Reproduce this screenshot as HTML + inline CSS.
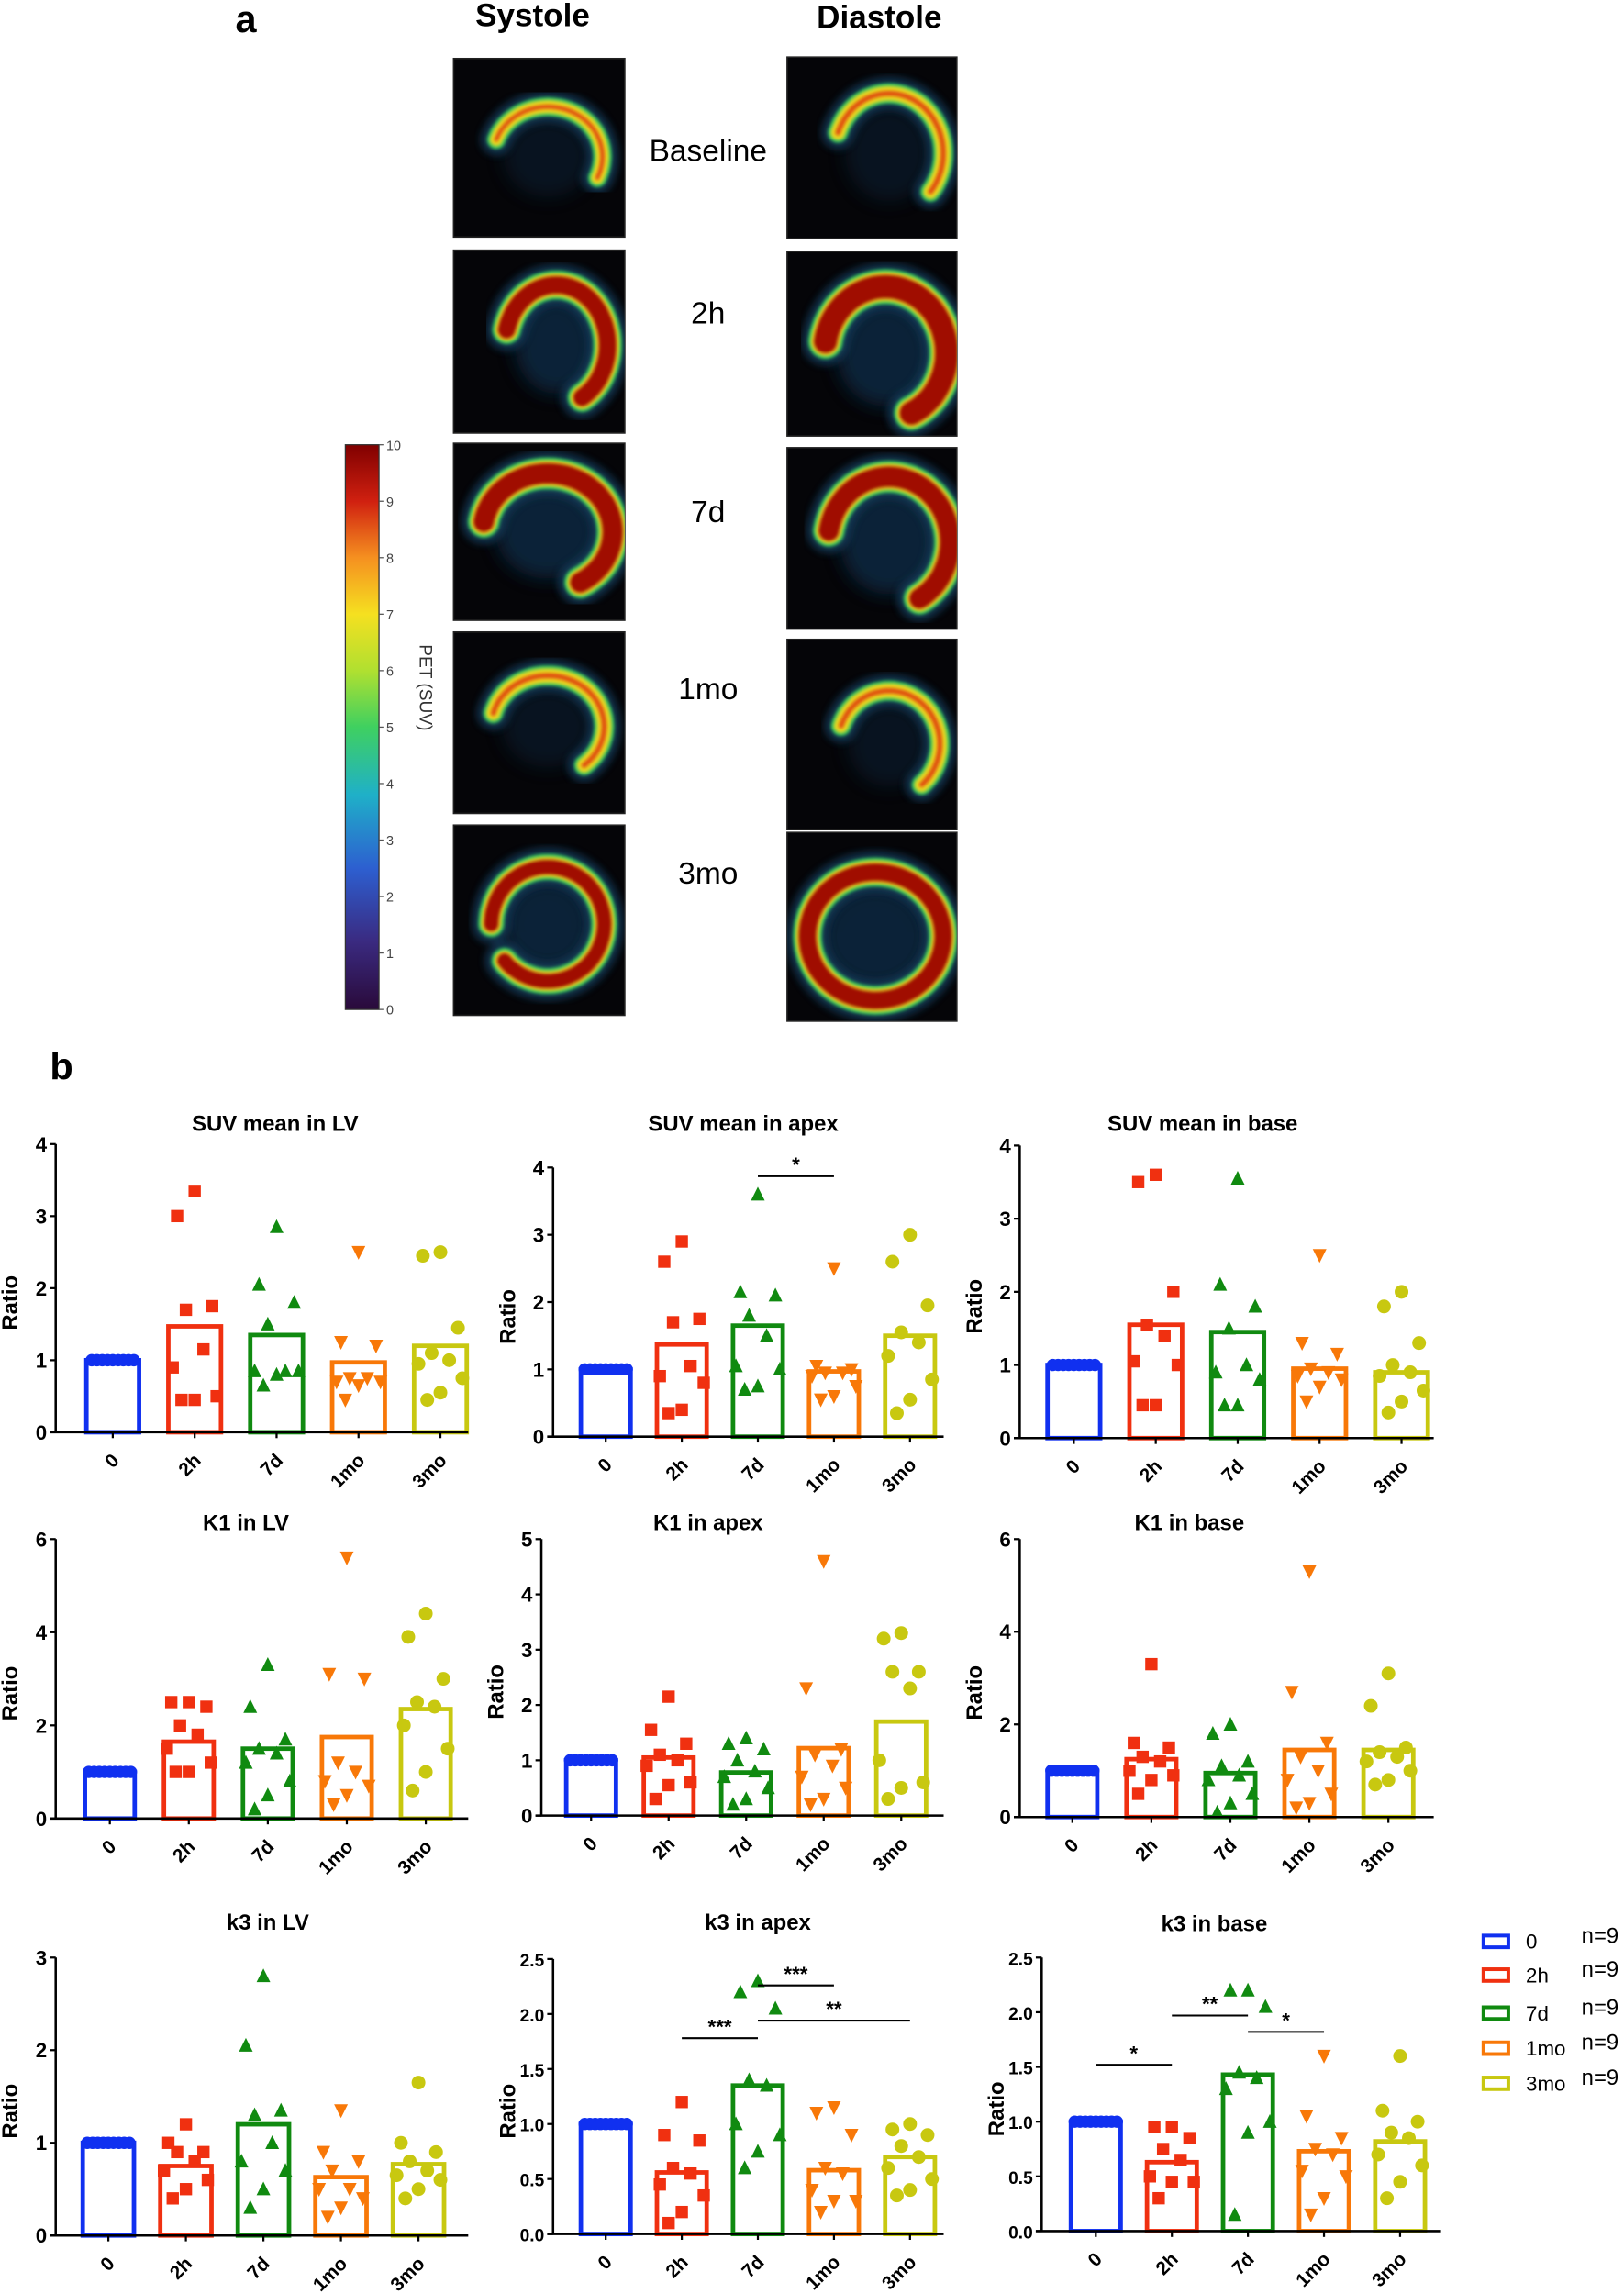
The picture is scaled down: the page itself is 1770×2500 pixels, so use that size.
<!DOCTYPE html>
<html><head><meta charset="utf-8"><style>
html,body{margin:0;padding:0;background:#fff}
svg{display:block}
text{font-family:"Liberation Sans",sans-serif}
</style></head><body>
<svg id="fig" width="1770" height="2500" viewBox="0 0 1110 1568" xmlns="http://www.w3.org/2000/svg">
<defs>
<filter id="blur2" x="-20%" y="-20%" width="140%" height="140%"><feGaussianBlur stdDeviation="2.5"/></filter>
<filter id="blur1" x="-20%" y="-20%" width="140%" height="140%"><feGaussianBlur stdDeviation="1.2"/></filter>
<filter id="blur6" x="-30%" y="-30%" width="160%" height="160%"><feGaussianBlur stdDeviation="6"/></filter>
<linearGradient id="cbar" x1="0" y1="1" x2="0" y2="0">
<stop offset="0" stop-color="#2a0a3a"/><stop offset="0.12" stop-color="#3a2a80"/><stop offset="0.25" stop-color="#2d5fd0"/><stop offset="0.38" stop-color="#1fb0c8"/><stop offset="0.5" stop-color="#3fd060"/><stop offset="0.6" stop-color="#b0e030"/><stop offset="0.7" stop-color="#f5e020"/><stop offset="0.8" stop-color="#f59020"/><stop offset="0.9" stop-color="#d02010"/><stop offset="1" stop-color="#800000"/>
</linearGradient>
</defs>
<g id="panelA"></g>
<g id="panelB"></g>
</svg>
<script>
// ---------- DATA ----------
const categories = ["0","2h","7d","1mo","3mo"];
const base0 = [1,1,1,1,1,1,1,1,1];

const suvLVPoints = [base0,[3.35,3.0,1.75,1.7,1.15,0.9,0.5,0.45,0.45],[2.85,2.05,1.8,1.5,0.85,0.85,0.85,0.8,0.65],[2.5,1.25,1.2,0.75,0.75,0.7,0.7,0.65,0.45],[2.5,2.45,1.45,1.1,1.0,0.95,0.75,0.55,0.45]];
const suvLVBars = [1.0,1.47,1.35,0.97,1.2];
const suvApexPoints = [base0,[2.9,2.6,1.75,1.7,1.05,0.9,0.8,0.4,0.35],[3.6,2.15,2.1,1.8,1.5,1.05,1.0,0.75,0.7],[2.5,1.05,1.0,0.95,0.95,0.9,0.75,0.6,0.55],[3.0,2.6,1.95,1.55,1.4,1.2,0.85,0.55,0.35]];
const suvApexBars = [1.0,1.37,1.65,0.97,1.5];
const suvBasePoints = [base0,[3.6,3.5,2.0,1.55,1.4,1.05,1.0,0.45,0.45],[3.55,2.1,1.8,1.5,1.0,0.9,0.8,0.45,0.45],[2.5,1.3,1.15,0.95,0.9,0.85,0.8,0.7,0.5],[2.0,1.8,1.3,1.0,0.9,0.85,0.65,0.5,0.35]];
const suvBaseBars = [1.0,1.55,1.45,0.95,0.9];

const k1LVPoints = [base0,[2.5,2.5,2.4,2.0,1.8,1.5,1.2,1.0,1.0],[3.3,2.4,1.7,1.5,1.4,1.2,0.8,0.5,0.2],[5.6,3.1,3.0,1.2,1.0,0.8,0.7,0.5,0.3],[4.4,3.9,3.0,2.5,2.4,2.0,1.5,1.0,0.6]];
const k1LVBars = [1.0,1.65,1.5,1.75,2.35];
const k1ApexPoints = [base0,[2.15,1.55,1.3,1.1,1.0,0.9,0.6,0.55,0.3],[1.4,1.3,1.2,1.0,0.8,0.7,0.5,0.3,0.2],[4.6,2.3,1.2,1.1,0.9,0.7,0.5,0.3,0.2],[3.3,3.2,2.6,2.6,2.3,1.0,0.6,0.5,0.3]];
const k1ApexBars = [1.0,1.05,0.78,1.22,1.7];
const k1BasePoints = [base0,[3.3,1.6,1.5,1.3,1.2,1.0,0.9,0.8,0.5],[2.0,1.8,1.2,1.1,0.9,0.8,0.5,0.3,0.1],[5.3,2.7,1.6,1.3,1.0,0.8,0.5,0.3,0.2],[3.1,2.4,1.5,1.4,1.3,1.2,1.0,0.8,0.7]];
const k1BaseBars = [1.0,1.25,0.95,1.45,1.45];

const k3LVPoints = [base0,[1.2,1.0,0.9,0.9,0.8,0.7,0.6,0.5,0.4],[2.8,2.05,1.35,1.3,1.0,0.8,0.7,0.5,0.3],[1.35,0.9,0.8,0.7,0.5,0.5,0.4,0.3,0.2],[1.65,1.0,0.9,0.8,0.7,0.65,0.6,0.5,0.4]];
const k3LVBars = [1.0,0.75,1.2,0.63,0.77];
const k3ApexPoints = [base0,[1.2,0.9,0.85,0.6,0.55,0.45,0.35,0.2,0.1],[2.3,2.2,2.05,1.4,1.35,1.0,0.9,0.75,0.6],[1.15,1.1,0.9,0.6,0.55,0.4,0.3,0.3,0.2],[1.0,0.95,0.9,0.8,0.7,0.6,0.5,0.4,0.35]];
const k3ApexBars = [1.0,0.56,1.35,0.58,0.7];
const k3BasePoints = [base0,[0.95,0.95,0.85,0.75,0.65,0.5,0.45,0.45,0.3],[2.2,2.2,2.05,1.45,1.4,1.3,1.0,0.9,0.15],[1.6,1.05,0.85,0.75,0.7,0.55,0.5,0.3,0.15],[1.6,1.1,1.0,0.9,0.85,0.7,0.6,0.45,0.3]];
const k3BaseBars = [1.0,0.63,1.43,0.73,0.82];

// significance: [fromIndex, toIndex, yValue, label]
const suvApexSig = [[2,3,3.87,"*"]];
const k3ApexSig = [[1,2,1.78,"***"],[2,3,2.26,"***"],[2,4,1.94,"**"]];
const k3BaseSig = [[0,1,1.52,"*"],[1,2,1.97,"**"],[2,3,1.82,"*"]];

const ticks4 = [0,1,2,3,4];
const ticks6 = [0,2,4,6];
const ticks5 = [0,1,2,3,4,5];
const ticks3 = [0,1,2,3];
const ticks25 = [0,0.5,1.0,1.5,2.0,2.5];
const cbarTicks = [0,1,2,3,4,5,6,7,8,9,10];

// ---------- STYLE ----------
const colors = ["#1030f0","#f03010","#108a10","#f87808","#c8c810"];
const NS = "http://www.w3.org/2000/svg";
function mk(tag, attrs, parent){
  const e = document.createElementNS(NS, tag);
  for (const k in attrs) e.setAttribute(k, attrs[k]);
  parent.appendChild(e);
  return e;
}
const A = document.getElementById('panelA');
const B = document.getElementById('panelB');

// ---------- PANEL A ----------
let t = mk('text',{x:168,y:22,'font-size':26,'font-weight':'bold','font-family':'Liberation Serif, serif','text-anchor':'middle'},A);
t.textContent='a';


t = mk('text',{x:364,y:18,'font-size':22,'font-weight':'bold','text-anchor':'middle'},A);
t.textContent='Systole';


t = mk('text',{x:601,y:19,'font-size':22,'font-weight':'bold','text-anchor':'middle'},A);
t.textContent='Diastole';



const rowLabels = ["Baseline","2h","7d","1mo","3mo"];
const rowLabelY = [110,221,357,478,604];
const sysBoxes = [[310,40,117,122],[310,171,117,125],[310,303,117,121],[310,432,117,124],[310,564,117,130]];
const diaBoxes = [[538,39,116,124],[538,172,116,126],[538,306,116,124],[538,437,116,130],[538,569,116,129]];
// heart ring params: [cxFrac, cyFrac, rxFrac, ryFrac, startDeg, endDeg, widthPx, redness]
const hearts = [
 [[0.55,0.55,0.32,0.28,200,385,8,0.4],[0.6,0.53,0.32,0.33,200,400,9,0.35]],
 [[0.6,0.52,0.3,0.33,195,420,15,1],[0.58,0.55,0.36,0.36,190,425,19,1]],
 [[0.55,0.5,0.38,0.33,190,420,17,1],[0.6,0.52,0.36,0.36,190,420,17,1]],
 [[0.55,0.52,0.33,0.28,195,410,9,0.6],[0.6,0.55,0.3,0.28,200,410,9,0.55]],
 [[0.55,0.52,0.33,0.3,180,500,13,0.9],[0.52,0.55,0.4,0.34,160,520,15,0.9]]
];
function arcPath(x,y,w,h,p){
  const cx=x+w*p[0], cy=y+h*p[1], rx=w*p[2], ry=h*p[3];
  let d='';
  for(let a=p[4]; a<=p[5]; a+=5){
    const r=a*Math.PI/180;
    d += (d?'L':'M') + (cx+rx*Math.cos(r)).toFixed(1)+','+(cy+ry*Math.sin(r)).toFixed(1);
  }
  return d;
}
function drawHeart(box, p, name){
  const g = mk('g',{},A);
  
  
  const [x,y,w,h]=box;
  mk('rect',{x:x,y:y,width:w,height:h,fill:'#050508',stroke:'#222','stroke-width':1},g);
  const clipId='c'+Math.round(x)+'_'+Math.round(y);
  const cp = mk('clipPath',{id:clipId},g);
  mk('rect',{x:x,y:y,width:w,height:h},cp);
  const gi = mk('g',{'clip-path':'url(#'+clipId+')'},g);
  mk('ellipse',{cx:x+w*p[0],cy:y+h*p[1],rx:w*p[2]*0.8,ry:h*p[3]*0.8,fill:'#0e2a45',filter:'url(#blur6)',opacity:p[7]>0.8?0.8:0.4},gi);
  const d = arcPath(x,y,w,h,p);
  mk('path',{d:d,fill:'none',stroke:'#124060','stroke-width':p[6]+14,'stroke-linecap':'round',filter:'url(#blur2)',opacity:0.7},gi);
  mk('path',{d:d,fill:'none',stroke:'#30c060','stroke-width':p[6]+5,'stroke-linecap':'round',filter:'url(#blur1)'},gi);
  mk('path',{d:d,fill:'none',stroke:'#e8d820','stroke-width':p[6]+1,'stroke-linecap':'round',filter:'url(#blur1)'},gi);
  mk('path',{d:d,fill:'none',stroke:p[7]>0.8?'#a00a00':'#e05010','stroke-width':Math.max(3,p[6]-3)*(p[7]>0.8?1:0.6),'stroke-linecap':'round',filter:'url(#blur1)'},gi);
}
for(let i=0;i<5;i++){
  drawHeart(sysBoxes[i],hearts[i][0],'systole-image-'+rowLabels[i].toLowerCase());
  drawHeart(diaBoxes[i],hearts[i][1],'diastole-image-'+rowLabels[i].toLowerCase());
  t = mk('text',{x:484,y:rowLabelY[i],'font-size':21,'text-anchor':'middle'},A);
  t.textContent=rowLabels[i];
  
  
}
// colorbar
const cb = mk('g',{},A);


mk('rect',{x:236,y:304,width:23,height:386,fill:'url(#cbar)',stroke:'#333','stroke-width':0.8},cb);
const cbY0=690, cbY1=304;
cbarTicks.forEach(v=>{
  const y = cbY0-(v/10)*(cbY0-cbY1);
  mk('line',{x1:259,y1:y,x2:262,y2:y,stroke:'#555','stroke-width':0.8},cb);
  const tt = mk('text',{x:264,y:y+3.5,'font-size':9,fill:'#444'},cb);
  tt.textContent=String(v);
  
  
});
t = mk('text',{x:287,y:470,'font-size':12,fill:'#333','text-anchor':'middle',transform:'rotate(90 287 470)'},cb);
t.textContent='PET (SUV)';



// ---------- PANEL B ----------
t = mk('text',{x:42,y:738,'font-size':26,'font-weight':'bold','font-family':'Liberation Serif, serif','text-anchor':'middle'},B);
t.textContent='b';



const charts = [
 {name:'suv-mean-lv',title:'SUV mean in LV',tx:188,ty:773,ax:38,xe:320,y0:979,yt:782,max:4,c0:77,step:56,bw:36,ticks:ticks4,pts:suvLVPoints,bars:suvLVBars,sig:[]},
 {name:'suv-mean-apex',title:'SUV mean in apex',tx:508,ty:773,ax:378,xe:645,y0:982,yt:798,max:4,c0:414,step:52,bw:34,ticks:ticks4,pts:suvApexPoints,bars:suvApexBars,sig:suvApexSig},
 {name:'suv-mean-base',title:'SUV mean in base',tx:822,ty:773,ax:697,xe:980,y0:983,yt:783,max:4,c0:734,step:56,bw:36,ticks:ticks4,pts:suvBasePoints,bars:suvBaseBars,sig:[]},
 {name:'k1-lv',title:'K1 in LV',tx:168,ty:1046,ax:38,xe:320,y0:1243,yt:1052,max:6,c0:75,step:54,bw:34,ticks:ticks6,pts:k1LVPoints,bars:k1LVBars,sig:[]},
 {name:'k1-apex',title:'K1 in apex',tx:484,ty:1046,ax:370,xe:645,y0:1241,yt:1052,max:5,c0:404,step:53,bw:34,ticks:ticks5,pts:k1ApexPoints,bars:k1ApexBars,sig:[]},
 {name:'k1-base',title:'K1 in base',tx:813,ty:1046,ax:697,xe:980,y0:1242,yt:1052,max:6,c0:733,step:54,bw:34,ticks:ticks6,pts:k1BasePoints,bars:k1BaseBars,sig:[]},
 {name:'k3-lv',title:'k3 in LV',tx:183,ty:1319,ax:38,xe:320,y0:1528,yt:1338,max:3,c0:74,step:53,bw:35,ticks:ticks3,pts:k3LVPoints,bars:k3LVBars,sig:[]},
 {name:'k3-apex',title:'k3 in apex',tx:518,ty:1319,ax:378,xe:645,y0:1527,yt:1339,max:2.5,c0:414,step:52,bw:34,ticks:ticks25,pts:k3ApexPoints,bars:k3ApexBars,sig:k3ApexSig,dec:true},
 {name:'k3-base',title:'k3 in base',tx:830,ty:1320,ax:712,xe:985,y0:1525,yt:1338,max:2.5,c0:749,step:52,bw:34,ticks:ticks25,pts:k3BasePoints,bars:k3BaseBars,sig:k3BaseSig,dec:true}
];
const jitter = [0,-12,12,-6,6,-15,15,0,-9];

function marker(g, k, x, y, col){
  const s=4.2;
  let e;
  if(k===0){ e=mk('circle',{cx:x,cy:y,r:s,fill:col},g); }
  else if(k===1){ e=mk('rect',{x:x-s,y:y-s,width:2*s,height:2*s,fill:col},g); }
  else if(k===2){ e=mk('polygon',{points:`${x},${y-s-1} ${x-s-0.5},${y+s} ${x+s+0.5},${y+s}`,fill:col},g); }
  else if(k===3){ e=mk('polygon',{points:`${x},${y+s+1} ${x-s-0.5},${y-s} ${x+s+0.5},${y-s}`,fill:col},g); }
  else { e=mk('circle',{cx:x,cy:y,r:s+0.5,fill:col},g); }
  
  
}

charts.forEach(c=>{
  const g = mk('g',{},B);
  
  
  const yS = v => c.y0 - v/c.max*(c.y0-c.yt);
  const xS = i => c.c0 + i*c.step;
  let tt = mk('text',{x:c.tx,y:c.ty,'font-size':15,'font-weight':'bold','text-anchor':'middle'},g);
  tt.textContent=c.title;
  
  
  const ymid=(c.y0+c.yt)/2+10;
  tt = mk('text',{x:c.ax-26,y:ymid,'font-size':15,'font-weight':'bold','text-anchor':'middle',transform:`rotate(-90 ${c.ax-26} ${ymid})`},g);
  tt.textContent='Ratio';
  
  
  c.bars.forEach((v,i)=>{
    const b = mk('rect',{x:xS(i)-c.bw/2,y:yS(v),width:c.bw,height:c.y0-yS(v),fill:'none',stroke:colors[i],'stroke-width':3},g);
    
    
  });
  c.pts.forEach((arr,i)=>{
    arr.forEach((v,j)=>{
      const jx = i===0 ? (j-4)*3.6 : jitter[j];
      marker(g,i,xS(i)+jx,yS(v),colors[i]);
    });
  });
  mk('line',{x1:c.ax,y1:c.yt,x2:c.ax,y2:c.y0,stroke:'#000','stroke-width':1.6},g);
  mk('line',{x1:c.ax-4,y1:c.y0,x2:c.xe,y2:c.y0,stroke:'#000','stroke-width':1.6},g);
  c.ticks.forEach(v=>{
    const y=yS(v);
    mk('line',{x1:c.ax-4,y1:y,x2:c.ax,y2:y,stroke:'#000','stroke-width':1.4},g);
    const l = mk('text',{x:c.ax-6,y:y+5,'font-size':c.dec?12:14,'font-weight':'bold','text-anchor':'end'},g);
    l.textContent = c.dec ? v.toFixed(1) : String(v);
    
    
  });
  categories.forEach((cat,i)=>{
    const x=xS(i);
    mk('line',{x1:x,y1:c.y0,x2:x,y2:c.y0+4,stroke:'#000','stroke-width':1.4},g);
    const lx=x+5, ly=c.y0+20;
    const l = mk('text',{x:lx,y:ly,'font-size':13,'font-weight':'bold','text-anchor':'end',transform:`rotate(-45 ${lx} ${ly})`},g);
    l.textContent=cat;
    
    
  });
  c.sig.forEach(s=>{
    const y=yS(s[2]);
    const ln = mk('line',{x1:xS(s[0]),y1:y,x2:xS(s[1]),y2:y,stroke:'#000','stroke-width':1.3},g);
    
    
    const st = mk('text',{x:(xS(s[0])+xS(s[1]))/2,y:y-3,'font-size':14,'font-weight':'bold','text-anchor':'middle'},g);
    st.textContent=s[3];
    
    
  });
});

// legend
const lg = mk('g',{},B);


const legY = [1326,1349,1375,1399,1423];
categories.forEach((cat,i)=>{
  const e = mk('g',{},lg);
  
  
  mk('rect',{x:1014,y:legY[i]-3,width:17,height:8,fill:'none',stroke:colors[i],'stroke-width':2.5},e);
  const a = mk('text',{x:1043,y:legY[i]+6,'font-size':14},e);
  a.textContent=cat;
  const b = mk('text',{x:1081,y:legY[i]+2,'font-size':15},e);
  b.textContent='n=9';
});
</script>
</body></html>
